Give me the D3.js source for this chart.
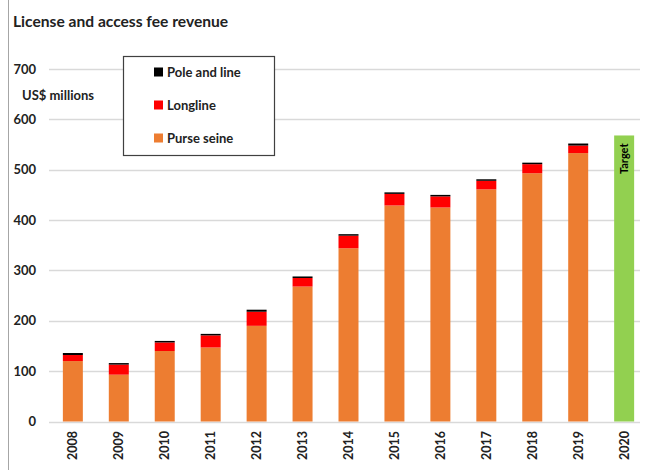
<!DOCTYPE html>
<html>
<head>
<meta charset="utf-8">
<script src="https://cdn.jsdelivr.net/npm/d3@7"></script>
<style>
  body { margin: 0; background: #fff; }
  text { font-family: Lato, "Open Sans", sans-serif; font-weight: bold; fill: #222; }
</style>
</head>
<body>
<div id="chart"></div>
<script>
// data (US$ millions)
const years = ["2008", "2009", "2010", "2011", "2012", "2013", "2014", "2015", "2016", "2017", "2018", "2019", "2020"];
const purseSeine = [120, 93, 140, 147, 190, 268, 344, 429, 425, 461, 493, 533, 0];
const longline = [12, 20, 17, 24, 28, 17, 25, 23, 22, 17, 18, 15, 0];
const poleAndLine = [4, 3, 3, 3, 4, 3, 3, 3, 3, 3, 3, 4, 0];
const target = [0, 0, 0, 0, 0, 0, 0, 0, 0, 0, 0, 0, 568];
const yTicks = [0, 100, 200, 300, 400, 500, 600, 700];

const width = 651, height = 470;
const margin = { top: 69, right: 4, bottom: 48.5, left: 50 };

const svg = d3.select("#chart").append("svg")
  .attr("width", width)
  .attr("height", height);

// left frame line
svg.append("line")
  .attr("x1", 8.5).attr("x2", 8.5)
  .attr("y1", 0).attr("y2", height)
  .attr("stroke", "#a6a6a6");

svg.append("text")
  .attr("x", 13).attr("y", 27)
  .style("font-size", "15.6px")
  .text("License and access fee revenue");

const x = d3.scaleBand()
  .domain(years)
  .range([margin.left, width - margin.right])
  .paddingInner(0.565)
  .paddingOuter(0.28);

const y = d3.scaleLinear()
  .domain([0, 700])
  .range([height - margin.bottom, margin.top]);

// gridlines
svg.append("g")
  .selectAll("line")
  .data(yTicks)
  .join("line")
  .attr("x1", 49).attr("x2", 640)
  .attr("y1", d => Math.round(y(d)) + 0.5)
  .attr("y2", d => Math.round(y(d)) + 0.5)
  .attr("stroke", "#d9d9d9")
  .attr("stroke-width", 1.5);

// y axis labels
const yAxis = svg.append("g")
  .attr("transform", `translate(36,0)`)
  .call(d3.axisLeft(y).tickValues(yTicks).tickSize(0).tickPadding(0));
yAxis.select(".domain").remove();
yAxis.selectAll("text").style("font-size", "13px").attr("font-family", null).attr("fill", "#222");

svg.append("text")
  .attr("x", 22).attr("y", 100)
  .style("font-size", "13px")
  .text("US$ millions");

// stacked bars
const table = years.map((yr, i) => ({
  year: yr,
  purse: purseSeine[i],
  long: longline[i],
  pole: poleAndLine[i],
  target: target[i]
}));
const keys = ["purse", "long", "pole", "target"];
const colors = { purse: "#ED7D31", long: "#FF0000", pole: "#000000", target: "#92D050" };
const stack = d3.stack().keys(keys)(table);

svg.append("g")
  .selectAll("g")
  .data(stack)
  .join("g")
  .attr("fill", s => colors[s.key])
  .selectAll("rect")
  .data(s => s.filter(d => d[1] > d[0]))
  .join("rect")
  .attr("x", d => x(d.data.year))
  .attr("width", x.bandwidth())
  .attr("y", d => y(d[1]))
  .attr("height", d => y(d[0]) - y(d[1]));

// Target label
const tIdx = years.indexOf("2020");
svg.append("text")
  .attr("transform", `translate(${x("2020") + x.bandwidth() / 2 + 4},${y(target[tIdx]) + 8}) rotate(-90)`)
  .attr("text-anchor", "end")
  .style("font-size", "11px")
  .style("fill", "#000")
  .text("Target");

// x axis labels
svg.append("g")
  .selectAll("text")
  .data(years)
  .join("text")
  .attr("transform", d => `translate(${x(d) + x.bandwidth() / 2 + 4.5},431) rotate(-90)`)
  .attr("text-anchor", "end")
  .style("font-size", "12.5px")
  .text(d => d);

// legend
const legend = svg.append("g");
legend.append("rect")
  .attr("x", 123.5).attr("y", 56.5)
  .attr("width", 151).attr("height", 99)
  .attr("fill", "#fff")
  .attr("stroke", "#404040")
  .attr("stroke-width", 1.2);

const legendItems = [
  { label: "Pole and line", key: "pole" },
  { label: "Longline", key: "long" },
  { label: "Purse seine", key: "purse" }
];
const ly = d3.scalePoint().domain(legendItems.map(d => d.label)).range([72, 138]);

legend.selectAll("rect.sw")
  .data(legendItems)
  .join("rect")
  .attr("class", "sw")
  .attr("x", 154).attr("width", 9)
  .attr("y", d => ly(d.label) - 4.5).attr("height", 9)
  .attr("fill", d => colors[d.key]);

legend.selectAll("text")
  .data(legendItems)
  .join("text")
  .attr("x", 167)
  .attr("y", d => ly(d.label) + 4.5)
  .style("font-size", "13px")
  .text(d => d.label);
</script>
</body>
</html>
